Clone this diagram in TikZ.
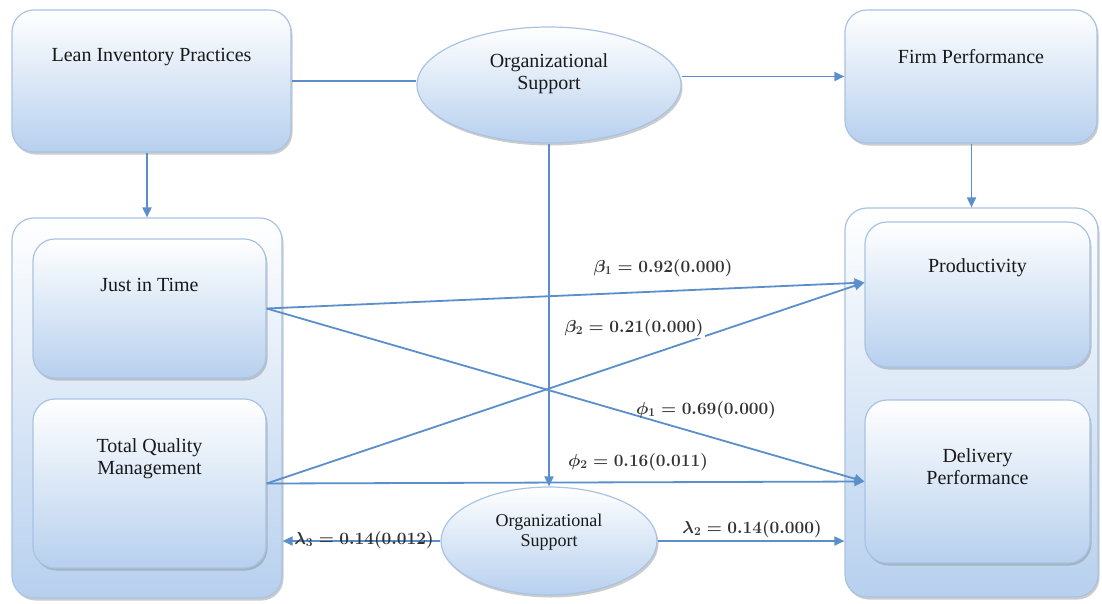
\documentclass[tikz,border=0pt]{standalone}
\usepackage{fontspec}
\setmainfont{Liberation Serif}
\newfontfamily\boxfont{Liberation Serif}
\usetikzlibrary{arrows.meta,shapes.geometric,shadows}
\definecolor{lineblue}{HTML}{5B8FCB}
\definecolor{boxedge}{HTML}{A9C3E2}
\definecolor{boxbot}{HTML}{B7D0EE}
\definecolor{labgray}{HTML}{333333}
\tikzset{
  box/.style={draw=boxedge, line width=1.2pt, rounded corners=22pt, top color=white, bottom color=boxbot,
    inner sep=0pt, drop shadow={shadow xshift=1.5pt, shadow yshift=-2.5pt, opacity=0.4, fill=gray}},
  oval/.style={ellipse, draw=boxedge, line width=1.2pt, top color=white, bottom color=boxbot,
    inner sep=0pt, drop shadow={shadow xshift=1.5pt, shadow yshift=-2.5pt, opacity=0.4, fill=gray}},
  txt/.style={font=\boxfont\fontsize{20}{22}\selectfont, text=black!90, align=center, anchor=center},
  stxt/.style={font=\boxfont\fontsize{18}{20}\selectfont, text=black!90, align=center, anchor=center},
  conn/.style={draw=lineblue, line width=1.8pt},
  arr/.style={conn, -{Triangle[length=10pt,width=9pt]}},
  lab/.style={font=\fontsize{17}{19}\selectfont\boldmath, text=labgray, inner sep=1pt}
}
\begin{document}
\begin{tikzpicture}[x=1pt,y=-1pt]
\useasboundingbox[fill=white] (0,0) rectangle (1102,603);

% top row
\node[box, minimum width=279pt, minimum height=142pt,
  label={[txt,yshift=-48pt]north:Lean Inventory Practices}] (lean) at (151.5,81) {};
\node[box, minimum width=252pt, minimum height=133pt,
  label={[txt,yshift=-47pt]north:Firm Performance}] (firm) at (971,76.5) {};
\node[oval, minimum width=264pt, minimum height=116pt] (os1) at (549,85) {};
\node[txt] (os1t) at (549,74) {Organizational\\Support};

% containers
\node[box, minimum width=270pt, minimum height=380pt] (leftc) at (147,408) {};
\node[box, minimum width=253pt, minimum height=389pt] (rightc) at (971.5,402.5) {};

% inner boxes
\node[box, minimum width=233pt, minimum height=139pt,
  label={[txt,yshift=-47pt]north:Just in Time}] (jit) at (149.5,308.5) {};
\node[box, minimum width=233pt, minimum height=169pt,
  label={[txt,yshift=-60pt]north:{Total Quality\\Management}}] (tqm) at (149.5,483.5) {};
\node[box, minimum width=225pt, minimum height=145pt,
  label={[txt,yshift=-46pt]north:Productivity}] (prod) at (977.5,294.5) {};
\node[box, minimum width=225pt, minimum height=163pt,
  label={[txt,yshift=-67pt]north:{Delivery\\Performance}}] (deliv) at (977.5,481.5) {};

% bottom ellipse
\node[oval, minimum width=216pt, minimum height=108pt] (os2) at (549,541) {};
\node[stxt] (os2t) at (549,532) {Organizational\\Support};

% connectors
\draw[conn] (lean.east) -- (lean.east -| os1.west);
\draw[arr] (os1.east |- firm.west) -- (firm.west);
\draw[arr] (lean.south -| leftc.north) -- (leftc.north);
\draw[arr] (firm.south -| rightc.north) -- (rightc.north);
\draw[arr] (os1.south) -- (os2.north);
\draw[arr] (jit.east) -- ([yshift=12pt]prod.west);
\draw[arr] (jit.east) -- (deliv.west);
\draw[arr] (tqm.east) -- ([yshift=12pt]prod.west);
\draw[arr] (tqm.east) -- (deliv.west);
\draw[arr] (os2.east) -- (os2.east -| rightc.west);
\draw[arr] (os2.west) -- (os2.west -| leftc.east);

% labels
\node[lab] (b1) at (663,268) {$\beta_1 = \mathbf{0.92(0.000)}$};
\node[lab, fill=white] (b2) at (634,328) {$\beta_2 = \mathbf{0.21(0.000)}$};
\node[lab] (p1) at (706,410) {$\phi_1 = \mathbf{0.69(0.000)}$};
\node[lab] (p2) at (638,462) {$\phi_2 = \mathbf{0.16(0.011)}$};
\node[lab] (l2) at (752,529) {$\lambda_2 = \mathbf{0.14(0.000)}$};
\node[lab] (l3) at (364,540) {$\lambda_3 = \mathbf{0.14(0.012)}$};
\end{tikzpicture}
\end{document}
